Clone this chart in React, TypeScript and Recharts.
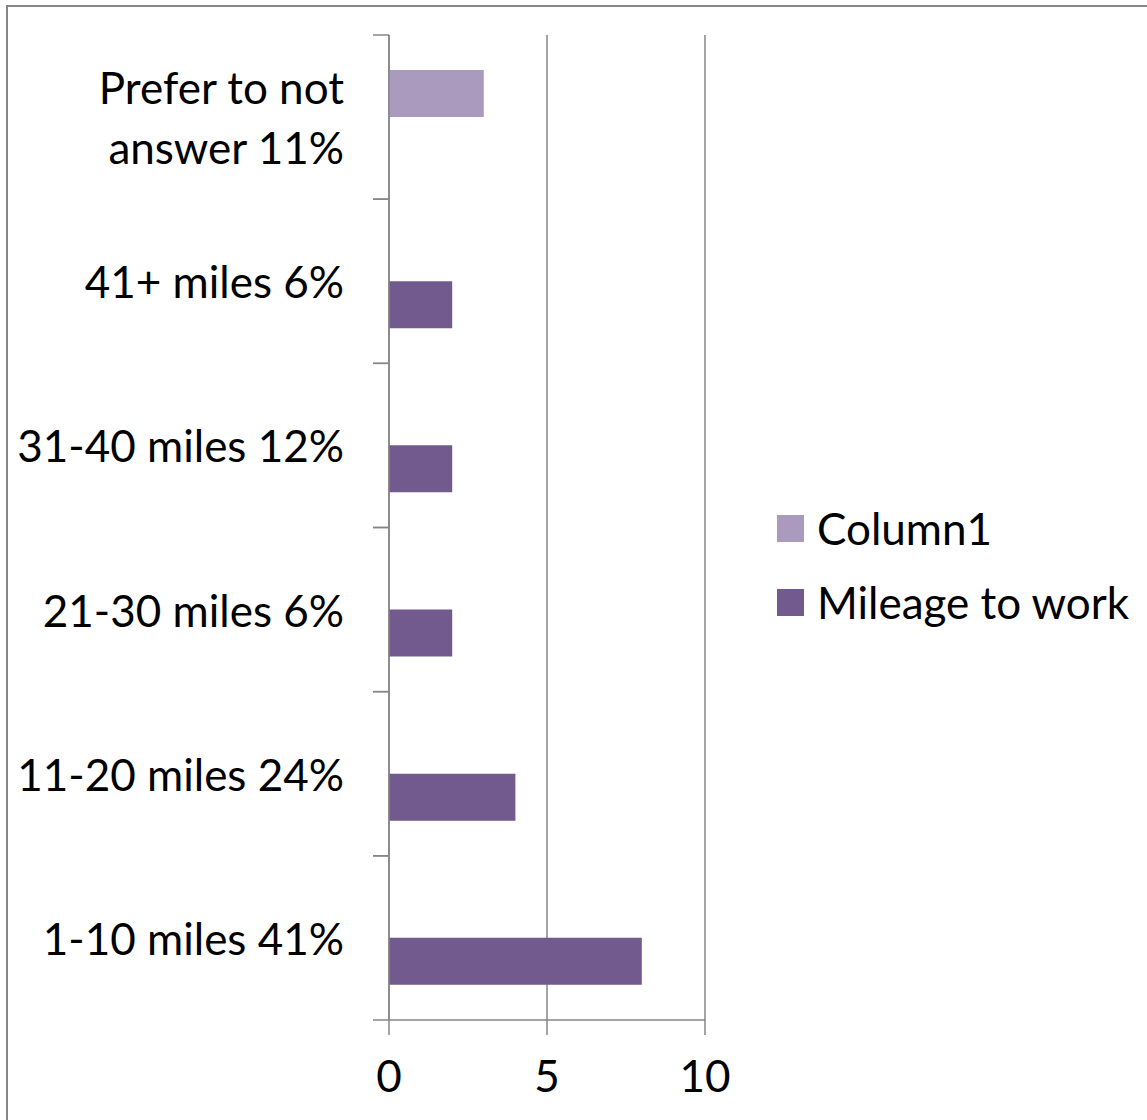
import { Bar, BarChart, CartesianGrid, Legend, XAxis, YAxis } from "recharts";

const categories = [
  "Prefer to not answer 11%",
  "41+ miles 6%",
  "31-40 miles 12%",
  "21-30 miles 6%",
  "11-20 miles 24%",
  "1-10 miles 41%",
];
const column1Values = [3, null, null, null, null, null];
const mileageValues = [null, 2, 2, 2, 4, 8];
const xTicks = [0, 5, 10];

const AXIS_GRAY = "#868686";
const FONT = "Lato, 'Open Sans', sans-serif";
const FONT_SIZE = 44;
const MAX_CHARS = 15;
const LABEL_GAP = 45;
const TICK_LEN = 16;

const data = categories.map((name, i) => ({
  name,
  column1: column1Values[i],
  mileage: mileageValues[i],
}));

// greedy word wrap, Excel breaks the long label into two lines
function wrapLabel(label: string): string[] {
  const lines: string[] = [];
  let cur = "";
  label.split(" ").forEach((w) => {
    const next = cur ? cur + " " + w : w;
    if (next.length > MAX_CHARS && cur) {
      lines.push(cur);
      cur = w;
    } else {
      cur = next;
    }
  });
  if (cur) lines.push(cur);
  return lines;
}

// label + Excel style tick marks sitting on the band edges
function CategoryTick(props: any) {
  const { x, y, payload } = props;
  const lines = wrapLabel(String(payload.value));
  const lineH = 60;
  const startY = y - ((lines.length - 1) * lineH) / 2;
  const axisX = x + LABEL_GAP;
  const half = payload.offset || 0;
  return (
    <g>
      <line x1={axisX - TICK_LEN} x2={axisX} y1={y - half} y2={y - half} stroke={AXIS_GRAY} strokeWidth={1.5} />
      <line x1={axisX - TICK_LEN} x2={axisX} y1={y + half} y2={y + half} stroke={AXIS_GRAY} strokeWidth={1.5} />
      <text
        x={x}
        y={startY}
        textAnchor="end"
        dominantBaseline="central"
        fill="#000"
        style={{ fontSize: FONT_SIZE, fontFamily: FONT }}
      >
        {lines.map((line, i) => (
          <tspan key={i} x={x} y={startY + i * lineH}>
            {line}
          </tspan>
        ))}
      </text>
    </g>
  );
}

function LegendBox(props: any) {
  const { payload } = props;
  return (
    <div style={{ fontFamily: FONT, fontSize: FONT_SIZE, color: "#000" }}>
      {(payload || []).map((entry: any) => (
        <div key={entry.value} style={{ display: "flex", alignItems: "center", height: 74 }}>
          <span
            style={{ display: "inline-block", width: 27, height: 27, background: entry.color, marginRight: 13 }}
          />
          <span style={{ lineHeight: 1, whiteSpace: "nowrap" }}>{entry.value}</span>
        </div>
      ))}
    </div>
  );
}

export default function App() {
  return (
    <div style={{ position: "absolute", left: 0, top: 0, width: 1147, height: 1120, overflow: "hidden", background: "#fff" }}>
      {/* outer chart frame, cut off at right and bottom */}
      <div
        style={{
          position: "absolute",
          left: 6,
          top: 5,
          width: 1200,
          height: 1200,
          borderLeft: `2px solid ${AXIS_GRAY}`,
          borderTop: `2px solid ${AXIS_GRAY}`,
        }}
      />
      <BarChart
        width={1147}
        height={1120}
        data={data}
        layout="vertical"
        margin={{ top: 35, right: 442, bottom: 0, left: 0 }}
        barCategoryGap="21.3%"
        barGap={0}
        style={{ position: "absolute", left: 0, top: 0 }}
      >
        <CartesianGrid horizontal={false} stroke={AXIS_GRAY} strokeWidth={1.5} />
        <XAxis
          type="number"
          domain={[0, 10]}
          ticks={xTicks}
          allowDataOverflow
          height={100}
          tickSize={15}
          tickMargin={26}
          axisLine={{ stroke: AXIS_GRAY, strokeWidth: 1.5 }}
          tickLine={{ stroke: AXIS_GRAY, strokeWidth: 1.5 }}
          tick={{ fill: "#000", fontSize: FONT_SIZE, fontFamily: FONT }}
        />
        <YAxis
          type="category"
          dataKey="name"
          width={389}
          axisLine={{ stroke: AXIS_GRAY, strokeWidth: 1.5 }}
          tickLine={false}
          tickSize={0}
          tickMargin={LABEL_GAP}
          interval={0}
          tick={<CategoryTick />}
        />
        <Legend
          layout="vertical"
          align="center"
          verticalAlign="middle"
          wrapperStyle={{ left: 777, top: 491, width: 370 }}
          content={<LegendBox />}
        />
        <Bar dataKey="column1" name="Column1" fill="#AA9BBE" isAnimationActive={false} />
        <Bar dataKey="mileage" name="Mileage to work" fill="#725A8E" isAnimationActive={false} />
      </BarChart>
    </div>
  );
}
